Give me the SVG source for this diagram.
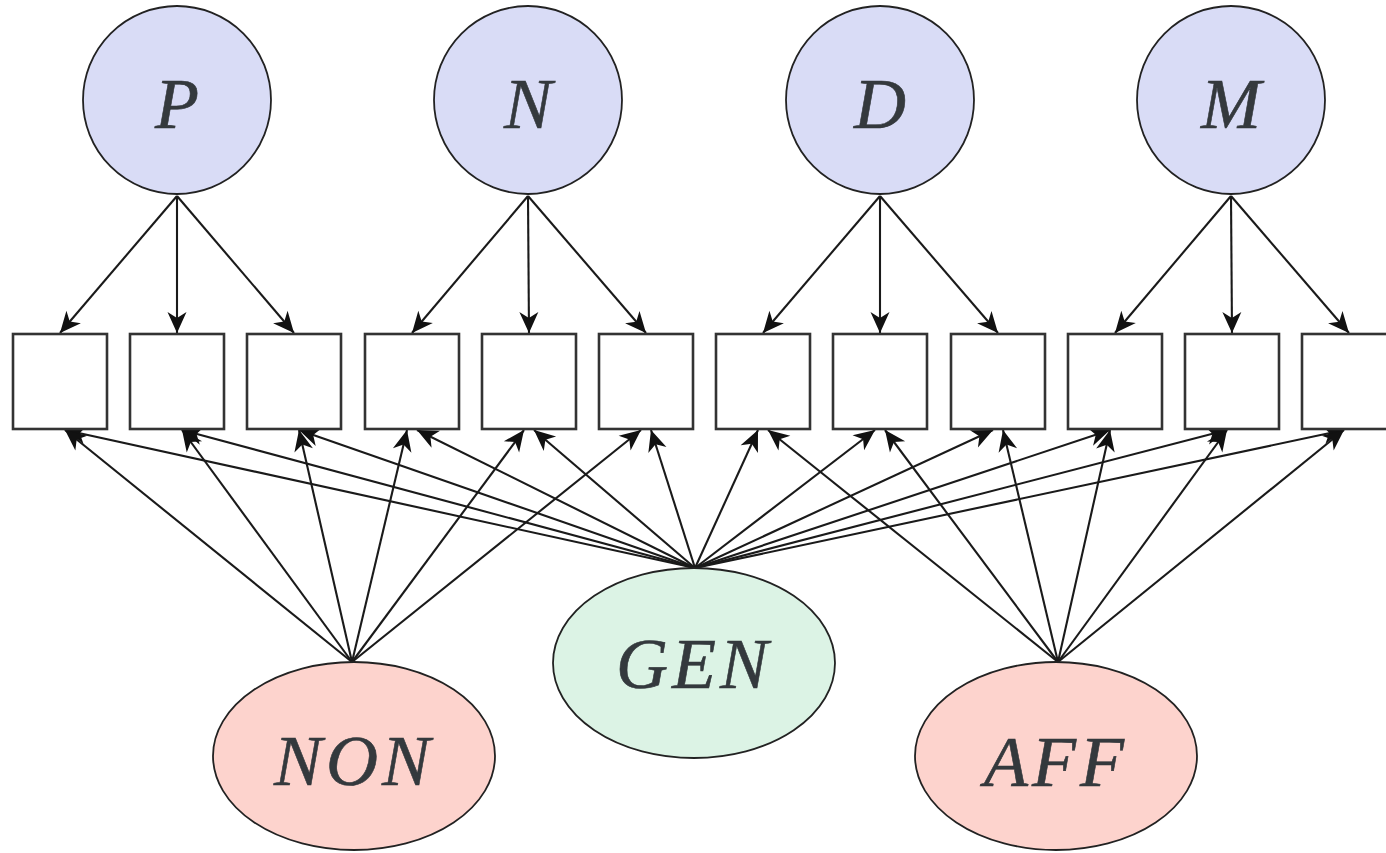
<svg xmlns="http://www.w3.org/2000/svg" width="1386" height="853" viewBox="0 0 1386 853">
  <style>
    .lat { fill: #d9dcf6; stroke: #222; stroke-width: 1.8; }
    .gen { fill: #dcf3e5; stroke: #222; stroke-width: 1.8; }
    .grp { fill: #fdd3cd; stroke: #222; stroke-width: 1.8; }
    .ind { fill: #ffffff; stroke: #333; stroke-width: 2.6; }
    .lbl { font-family: "Liberation Serif", "DejaVu Serif", serif; font-style: italic; font-size: 72px; fill: #34393d; text-anchor: middle; stroke: #34393d; stroke-width: 0.6; }
    .wide { letter-spacing: 4px; }
    .edge { stroke: #1a1a1a; stroke-width: 2.1; fill: none; marker-end: url(#arrow); }
  </style>
  <defs>
    <marker id="arrow" viewBox="-22 -11 23 22" refX="0" refY="0" markerWidth="23" markerHeight="22" markerUnits="userSpaceOnUse" orient="auto">
      <path d="M0,0 L-21,-9.5 L-15,0 L-21,9.5 Z" fill="#111"/>
    </marker>
  </defs>
  <rect width="1386" height="853" fill="#ffffff"/>

  <!-- connectors -->
  <g id="connectors">
    <!-- factor loadings -->
    <line class="edge" x1="177" y1="196" x2="60" y2="333"/>
    <line class="edge" x1="177" y1="196" x2="177" y2="333"/>
    <line class="edge" x1="177" y1="196" x2="294" y2="333"/>
    <line class="edge" x1="528" y1="196" x2="412" y2="333"/>
    <line class="edge" x1="528" y1="196" x2="529" y2="333"/>
    <line class="edge" x1="528" y1="196" x2="646" y2="333"/>
    <line class="edge" x1="880" y1="196" x2="763" y2="333"/>
    <line class="edge" x1="880" y1="196" x2="880" y2="333"/>
    <line class="edge" x1="880" y1="196" x2="998" y2="333"/>
    <line class="edge" x1="1231" y1="196" x2="1115" y2="333"/>
    <line class="edge" x1="1231" y1="196" x2="1232" y2="333"/>
    <line class="edge" x1="1231" y1="196" x2="1349" y2="333"/>
    <!-- general factor -->
    <line class="edge" x1="695" y1="568" x2="65" y2="430"/>
    <line class="edge" x1="695" y1="568" x2="182" y2="430"/>
    <line class="edge" x1="695" y1="568" x2="299" y2="430"/>
    <line class="edge" x1="695" y1="568" x2="417" y2="430"/>
    <line class="edge" x1="695" y1="568" x2="534" y2="430"/>
    <line class="edge" x1="695" y1="568" x2="651" y2="430"/>
    <line class="edge" x1="695" y1="568" x2="758" y2="430"/>
    <line class="edge" x1="695" y1="568" x2="875" y2="430"/>
    <line class="edge" x1="695" y1="568" x2="993" y2="430"/>
    <line class="edge" x1="695" y1="568" x2="1110" y2="430"/>
    <line class="edge" x1="695" y1="568" x2="1227" y2="430"/>
    <line class="edge" x1="695" y1="568" x2="1344" y2="430"/>
    <!-- NON -->
    <line class="edge" x1="352" y1="662" x2="65" y2="430"/>
    <line class="edge" x1="352" y1="662" x2="182" y2="430"/>
    <line class="edge" x1="352" y1="662" x2="299" y2="430"/>
    <line class="edge" x1="352" y1="662" x2="407" y2="430"/>
    <line class="edge" x1="352" y1="662" x2="524" y2="430"/>
    <line class="edge" x1="352" y1="662" x2="641" y2="430"/>
    <!-- AFF -->
    <line class="edge" x1="1058" y1="662" x2="768" y2="430"/>
    <line class="edge" x1="1058" y1="662" x2="885" y2="430"/>
    <line class="edge" x1="1058" y1="662" x2="1003" y2="430"/>
    <line class="edge" x1="1058" y1="662" x2="1110" y2="430"/>
    <line class="edge" x1="1058" y1="662" x2="1227" y2="430"/>
    <line class="edge" x1="1058" y1="662" x2="1344" y2="430"/>
  </g>

  <!-- latent factors -->
  <g id="node-P"><circle class="lat" cx="177" cy="100" r="94"/><text class="lbl" x="177" y="128">P</text></g>
  <g id="node-N"><circle class="lat" cx="528" cy="100" r="94"/><text class="lbl" x="528" y="128">N</text></g>
  <g id="node-D"><circle class="lat" cx="880" cy="100" r="94"/><text class="lbl" x="880" y="128">D</text></g>
  <g id="node-M"><circle class="lat" cx="1231" cy="100" r="94"/><text class="lbl" x="1231" y="128">M</text></g>

  <!-- indicators -->
  <g id="item-1"><rect class="ind" x="13" y="334" width="94" height="95"/></g>
  <g id="item-2"><rect class="ind" x="130" y="334" width="94" height="95"/></g>
  <g id="item-3"><rect class="ind" x="247" y="334" width="94" height="95"/></g>
  <g id="item-4"><rect class="ind" x="365" y="334" width="94" height="95"/></g>
  <g id="item-5"><rect class="ind" x="482" y="334" width="94" height="95"/></g>
  <g id="item-6"><rect class="ind" x="599" y="334" width="94" height="95"/></g>
  <g id="item-7"><rect class="ind" x="716" y="334" width="94" height="95"/></g>
  <g id="item-8"><rect class="ind" x="833" y="334" width="94" height="95"/></g>
  <g id="item-9"><rect class="ind" x="951" y="334" width="94" height="95"/></g>
  <g id="item-10"><rect class="ind" x="1068" y="334" width="94" height="95"/></g>
  <g id="item-11"><rect class="ind" x="1185" y="334" width="94" height="95"/></g>
  <g id="item-12"><rect class="ind" x="1302" y="334" width="94" height="95"/></g>

  <!-- general and group factors -->
  <g id="node-GEN"><ellipse class="gen" cx="694" cy="663" rx="141" ry="95"/><text class="lbl wide" x="694" y="688">GEN</text></g>
  <g id="node-NON"><ellipse class="grp" cx="354" cy="756" rx="141" ry="94"/><text class="lbl wide" x="354" y="785">NON</text></g>
  <g id="node-AFF"><ellipse class="grp" cx="1056" cy="756" rx="141" ry="94"/><text class="lbl wide" x="1056" y="786">AFF</text></g>
</svg>
